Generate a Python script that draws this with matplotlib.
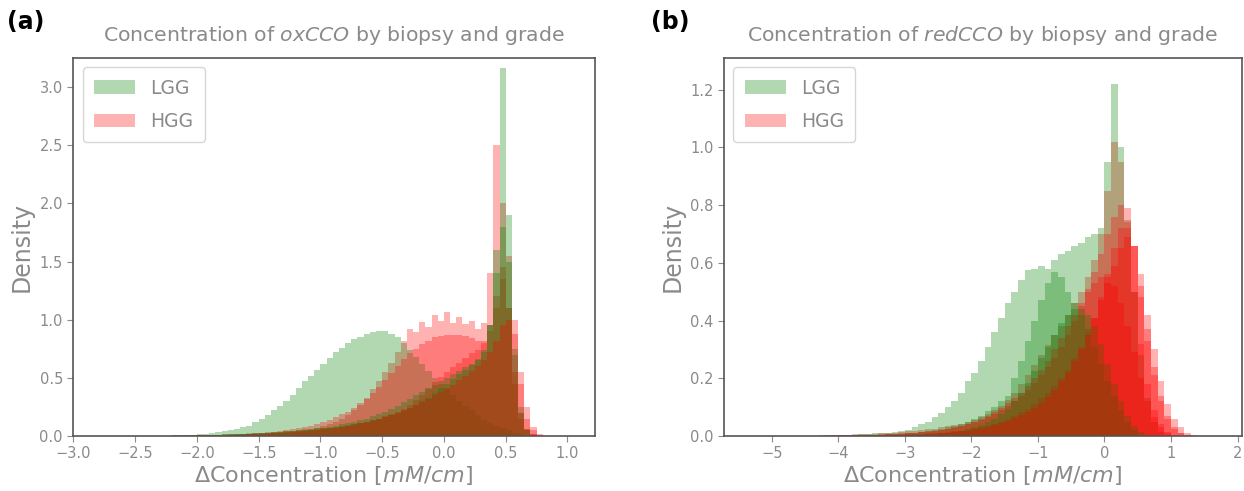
import numpy as np
import matplotlib.pyplot as plt

# bin edges for each panel (density values below are per bin)
edges_a = np.linspace(-2.3, 0.8, 63)
edges_b = np.linspace(-4.5, 1.5, 61)

# ---- panel (a): oxCCO, 62 bins of 0.05 from -2.3 ----
lgg_a1 = [0, 0.003, 0.005, 0.007, 0.01, 0.012, 0.016, 0.02, 0.026, 0.032,
          0.04, 0.05, 0.06, 0.075, 0.09, 0.12, 0.15, 0.18, 0.22, 0.26,
          0.30, 0.35, 0.41, 0.47, 0.52, 0.57, 0.62, 0.67, 0.72, 0.76,
          0.80, 0.83, 0.855, 0.875, 0.89, 0.90, 0.90, 0.88, 0.85, 0.80,
          0.74, 0.68, 0.62, 0.56, 0.50, 0.45, 0.40, 0.35, 0.30, 0.26,
          0.22, 0.18, 0.14, 0.11, 0.09, 0.07, 0.05, 0.03, 0.015, 0.005,
          0, 0]
lgg_a2 = [0, 0, 0, 0, 0.003, 0.005, 0.006, 0.008, 0.01, 0.012,
          0.014, 0.016, 0.018, 0.02, 0.022, 0.025, 0.028, 0.03, 0.033, 0.036,
          0.04, 0.045, 0.05, 0.055, 0.06, 0.066, 0.072, 0.08, 0.09, 0.10,
          0.11, 0.12, 0.135, 0.15, 0.17, 0.19, 0.21, 0.235, 0.26, 0.29,
          0.32, 0.35, 0.38, 0.41, 0.44, 0.47, 0.50, 0.53, 0.56, 0.59,
          0.62, 0.66, 0.74, 0.95, 1.6, 3.16, 1.9, 0.7, 0.2, 0.05,
          0.01, 0]
lgg_a3 = [0, 0, 0.002, 0.003, 0.004, 0.005, 0.006, 0.007, 0.008, 0.009,
          0.01, 0.012, 0.014, 0.016, 0.018, 0.02, 0.023, 0.026, 0.03, 0.034,
          0.037, 0.041, 0.045, 0.05, 0.055, 0.06, 0.066, 0.072, 0.079, 0.086,
          0.094, 0.103, 0.113, 0.124, 0.136, 0.149, 0.163, 0.178, 0.195, 0.215,
          0.24, 0.27, 0.30, 0.33, 0.37, 0.41, 0.45, 0.49, 0.53, 0.57,
          0.61, 0.65, 0.72, 0.95, 1.4, 1.8, 1.5, 0.75, 0.25, 0.06,
          0.01, 0]
hgg_a1 = [0, 0.003, 0.005, 0.006, 0.007, 0.008, 0.009, 0.01, 0.011, 0.012,
          0.013, 0.014, 0.016, 0.018, 0.02, 0.022, 0.025, 0.028, 0.031, 0.035,
          0.039, 0.044, 0.05, 0.056, 0.064, 0.073, 0.085, 0.10, 0.12, 0.145,
          0.18, 0.22, 0.27, 0.33, 0.40, 0.47, 0.55, 0.63, 0.72, 0.82,
          0.92, 0.89, 0.98, 0.94, 1.04, 0.99, 1.07, 0.97, 1.02, 0.96,
          0.99, 0.92, 0.97, 1.4, 2.5, 2.0, 1.1, 0.45, 0.15, 0.05,
          0.015, 0.004]
hgg_a2 = [0, 0.002, 0.003, 0.004, 0.005, 0.006, 0.007, 0.008, 0.009, 0.01,
          0.012, 0.014, 0.016, 0.018, 0.021, 0.024, 0.028, 0.032, 0.037, 0.043,
          0.05, 0.058, 0.067, 0.078, 0.09, 0.105, 0.12, 0.14, 0.16, 0.185,
          0.21, 0.24, 0.28, 0.32, 0.37, 0.42, 0.48, 0.54, 0.60, 0.66,
          0.71, 0.75, 0.79, 0.82, 0.85, 0.86, 0.87, 0.87, 0.87, 0.86,
          0.84, 0.82, 0.82, 0.9, 1.1, 1.35, 1.1, 0.55, 0.2, 0.06,
          0.015, 0.003]
hgg_a3 = [0, 0.001, 0.002, 0.003, 0.004, 0.005, 0.006, 0.007, 0.008, 0.009,
          0.01, 0.011, 0.012, 0.014, 0.016, 0.018, 0.02, 0.022, 0.025, 0.028,
          0.031, 0.035, 0.039, 0.043, 0.048, 0.053, 0.059, 0.066, 0.073, 0.081,
          0.09, 0.10, 0.11, 0.12, 0.135, 0.15, 0.17, 0.19, 0.21, 0.235,
          0.27, 0.31, 0.35, 0.40, 0.46, 0.51, 0.55, 0.59, 0.63, 0.67,
          0.71, 0.74, 0.80, 0.95, 1.2, 1.45, 1.55, 1.0, 0.45, 0.15,
          0.05, 0.012]
hgg_a4 = [0, 0, 0.001, 0.002, 0.003, 0.004, 0.005, 0.006, 0.007, 0.008,
          0.009, 0.01, 0.011, 0.012, 0.014, 0.016, 0.018, 0.02, 0.022, 0.025,
          0.028, 0.031, 0.035, 0.039, 0.044, 0.05, 0.056, 0.063, 0.07, 0.078,
          0.087, 0.097, 0.108, 0.12, 0.133, 0.147, 0.162, 0.18, 0.20, 0.22,
          0.24, 0.265, 0.29, 0.32, 0.35, 0.38, 0.41, 0.44, 0.48, 0.52,
          0.56, 0.60, 0.65, 0.72, 0.82, 0.95, 1.0, 0.88, 0.55, 0.25,
          0.08, 0.02]

# ---- panel (b): redCCO, 60 bins of 0.1 from -4.5 ----
lgg_b1 = [0, 0, 0, 0.002, 0.003, 0.004, 0.005, 0.006, 0.007, 0.008,
          0.009, 0.01, 0.012, 0.015, 0.018, 0.022, 0.03, 0.04, 0.05, 0.065,
          0.08, 0.10, 0.12, 0.15, 0.19, 0.22, 0.26, 0.31, 0.36, 0.41,
          0.46, 0.50, 0.54, 0.575, 0.58, 0.59, 0.58, 0.61, 0.63, 0.64,
          0.66, 0.67, 0.69, 0.70, 0.72, 0.95, 1.22, 1.0, 0.75, 0.5,
          0.28, 0.13, 0.05, 0.015, 0.005, 0, 0, 0, 0, 0]
lgg_b2 = [0, 0, 0, 0, 0.001, 0.002, 0.002, 0.003, 0.003, 0.004,
          0.005, 0.005, 0.006, 0.007, 0.008, 0.01, 0.012, 0.014, 0.017, 0.02,
          0.024, 0.03, 0.035, 0.04, 0.05, 0.06, 0.07, 0.085, 0.10, 0.12,
          0.14, 0.20, 0.26, 0.33, 0.40, 0.47, 0.53, 0.57, 0.55, 0.50,
          0.46, 0.42, 0.37, 0.31, 0.25, 0.19, 0.14, 0.09, 0.05, 0.02,
          0.005, 0, 0, 0, 0, 0, 0, 0, 0, 0]
lgg_b3 = [0, 0, 0, 0, 0, 0, 0, 0, 0, 0.001,
          0.001, 0.002, 0.002, 0.003, 0.003, 0.004, 0.005, 0.006, 0.007, 0.008,
          0.01, 0.012, 0.015, 0.019, 0.024, 0.03, 0.038, 0.048, 0.06, 0.075,
          0.095, 0.12, 0.15, 0.185, 0.225, 0.27, 0.31, 0.35, 0.39, 0.42,
          0.44, 0.44, 0.42, 0.38, 0.32, 0.25, 0.18, 0.12, 0.07, 0.035,
          0.015, 0.005, 0, 0, 0, 0, 0, 0, 0, 0]
hgg_b1 = [0, 0.001, 0.002, 0.002, 0.003, 0.003, 0.004, 0.005, 0.006, 0.007,
          0.008, 0.009, 0.01, 0.012, 0.014, 0.016, 0.018, 0.02, 0.023, 0.026,
          0.03, 0.034, 0.038, 0.043, 0.05, 0.057, 0.066, 0.077, 0.09, 0.105,
          0.125, 0.15, 0.18, 0.21, 0.245, 0.28, 0.315, 0.35, 0.38, 0.42,
          0.46, 0.50, 0.55, 0.61, 0.70, 0.85, 1.02, 0.95, 0.72, 0.5,
          0.32, 0.18, 0.09, 0.04, 0.015, 0.005, 0, 0, 0, 0]
hgg_b2 = [0, 0, 0.001, 0.001, 0.002, 0.002, 0.003, 0.003, 0.004, 0.004,
          0.005, 0.006, 0.007, 0.008, 0.009, 0.01, 0.012, 0.014, 0.016, 0.018,
          0.021, 0.025, 0.029, 0.034, 0.04, 0.047, 0.055, 0.065, 0.077, 0.09,
          0.105, 0.12, 0.14, 0.16, 0.185, 0.21, 0.24, 0.27, 0.31, 0.35,
          0.40, 0.45, 0.51, 0.57, 0.63, 0.70, 0.76, 0.80, 0.79, 0.66,
          0.48, 0.33, 0.21, 0.12, 0.06, 0.025, 0.01, 0.003, 0, 0]
hgg_b3 = [0, 0, 0, 0, 0, 0.001, 0.001, 0.002, 0.002, 0.002,
          0.003, 0.003, 0.004, 0.004, 0.005, 0.006, 0.007, 0.008, 0.009, 0.01,
          0.012, 0.014, 0.016, 0.019, 0.022, 0.026, 0.03, 0.036, 0.043, 0.05,
          0.06, 0.07, 0.082, 0.095, 0.11, 0.13, 0.15, 0.175, 0.20, 0.23,
          0.27, 0.31, 0.36, 0.41, 0.47, 0.53, 0.59, 0.65, 0.69, 0.66,
          0.56, 0.42, 0.30, 0.19, 0.11, 0.06, 0.03, 0.012, 0.004, 0]
hgg_b4 = [0, 0, 0.001, 0.001, 0.001, 0.002, 0.002, 0.003, 0.003, 0.004,
          0.004, 0.005, 0.006, 0.007, 0.008, 0.009, 0.011, 0.013, 0.015, 0.018,
          0.021, 0.025, 0.03, 0.036, 0.043, 0.05, 0.06, 0.07, 0.083, 0.097,
          0.113, 0.13, 0.15, 0.175, 0.20, 0.23, 0.26, 0.30, 0.34, 0.38,
          0.42, 0.46, 0.50, 0.53, 0.55, 0.55, 0.52, 0.46, 0.38, 0.29,
          0.20, 0.12, 0.065, 0.03, 0.012, 0.004, 0, 0, 0, 0]
hgg_b5 = [0, 0, 0, 0, 0, 0, 0, 0, 0, 0,
          0, 0.001, 0.001, 0.002, 0.002, 0.003, 0.004, 0.005, 0.006, 0.007,
          0.009, 0.011, 0.013, 0.016, 0.019, 0.023, 0.027, 0.032, 0.038, 0.045,
          0.053, 0.062, 0.072, 0.084, 0.098, 0.115, 0.135, 0.16, 0.19, 0.22,
          0.26, 0.30, 0.35, 0.41, 0.48, 0.56, 0.65, 0.72, 0.74, 0.66,
          0.52, 0.37, 0.24, 0.14, 0.07, 0.03, 0.012, 0.004, 0.001, 0]

panels = [
    dict(edges=edges_a, name='oxCCO', xlim=(-3.0, 1.22), ylim=(0, 3.25),
         xticks=np.arange(-3.0, 1.01, 0.5), yticks=np.arange(0, 3.01, 0.5),
         series=[('HGG', hgg_a1), ('LGG', lgg_a1), ('HGG', hgg_a2), ('HGG', hgg_a3),
                 ('LGG', lgg_a2), ('LGG', lgg_a3), ('HGG', hgg_a4)]),
    dict(edges=edges_b, name='redCCO', xlim=(-5.72, 2.06), ylim=(0, 1.31),
         xticks=np.arange(-5, 3), yticks=np.arange(0, 1.21, 0.2),
         series=[('HGG', hgg_b1), ('LGG', lgg_b1), ('HGG', hgg_b2), ('HGG', hgg_b3),
                 ('LGG', lgg_b2), ('HGG', hgg_b4), ('LGG', lgg_b3), ('HGG', hgg_b5)]),
]

colors = {'LGG': 'green', 'HGG': 'red'}
txt = '#8a8a8a'

fig = plt.figure(figsize=(12.44, 4.91), dpi=100)
boxes = [[0.059, 0.112, 0.419, 0.770], [0.582, 0.112, 0.416, 0.770]]

for k, p in enumerate(panels):
    ax = fig.add_axes(boxes[k])
    centers = (p['edges'][:-1] + p['edges'][1:]) / 2
    handles = {}
    for grade, vals in p['series']:
        _, _, patches = ax.hist(centers, bins=p['edges'], weights=vals, histtype='stepfilled',
                                color=colors[grade], alpha=0.3, linewidth=0)
        handles.setdefault(grade, patches[0])
    ax.set_xlim(*p['xlim'])
    ax.set_ylim(*p['ylim'])
    ax.set_xticks(p['xticks'])
    ax.set_yticks(p['yticks'])
    ax.tick_params(colors=txt, labelsize=10.5, length=4)
    for s in ax.spines.values():
        s.set_color('#555555')
        s.set_linewidth(1.2)
    ax.set_title('Concentration of $\\it{' + p['name'] + '}$ by biopsy and grade',
                 color=txt, fontsize=14.7, pad=12)
    ax.set_xlabel('ΔConcentration [$\\it{mM/cm}$]', color=txt, fontsize=16, labelpad=2)
    ax.set_ylabel('Density', color=txt, fontsize=17)
    ax.legend([handles['LGG'], handles['HGG']], ['LGG', 'HGG'], loc='upper left',
              fontsize=13.5, labelcolor=txt, handlelength=2.2, labelspacing=0.75,
              borderpad=0.6)

fig.text(0.006, 0.94, '(a)', fontsize=17, weight='bold')
fig.text(0.523, 0.94, '(b)', fontsize=17, weight='bold')

fig.savefig('out.png', dpi=100)
